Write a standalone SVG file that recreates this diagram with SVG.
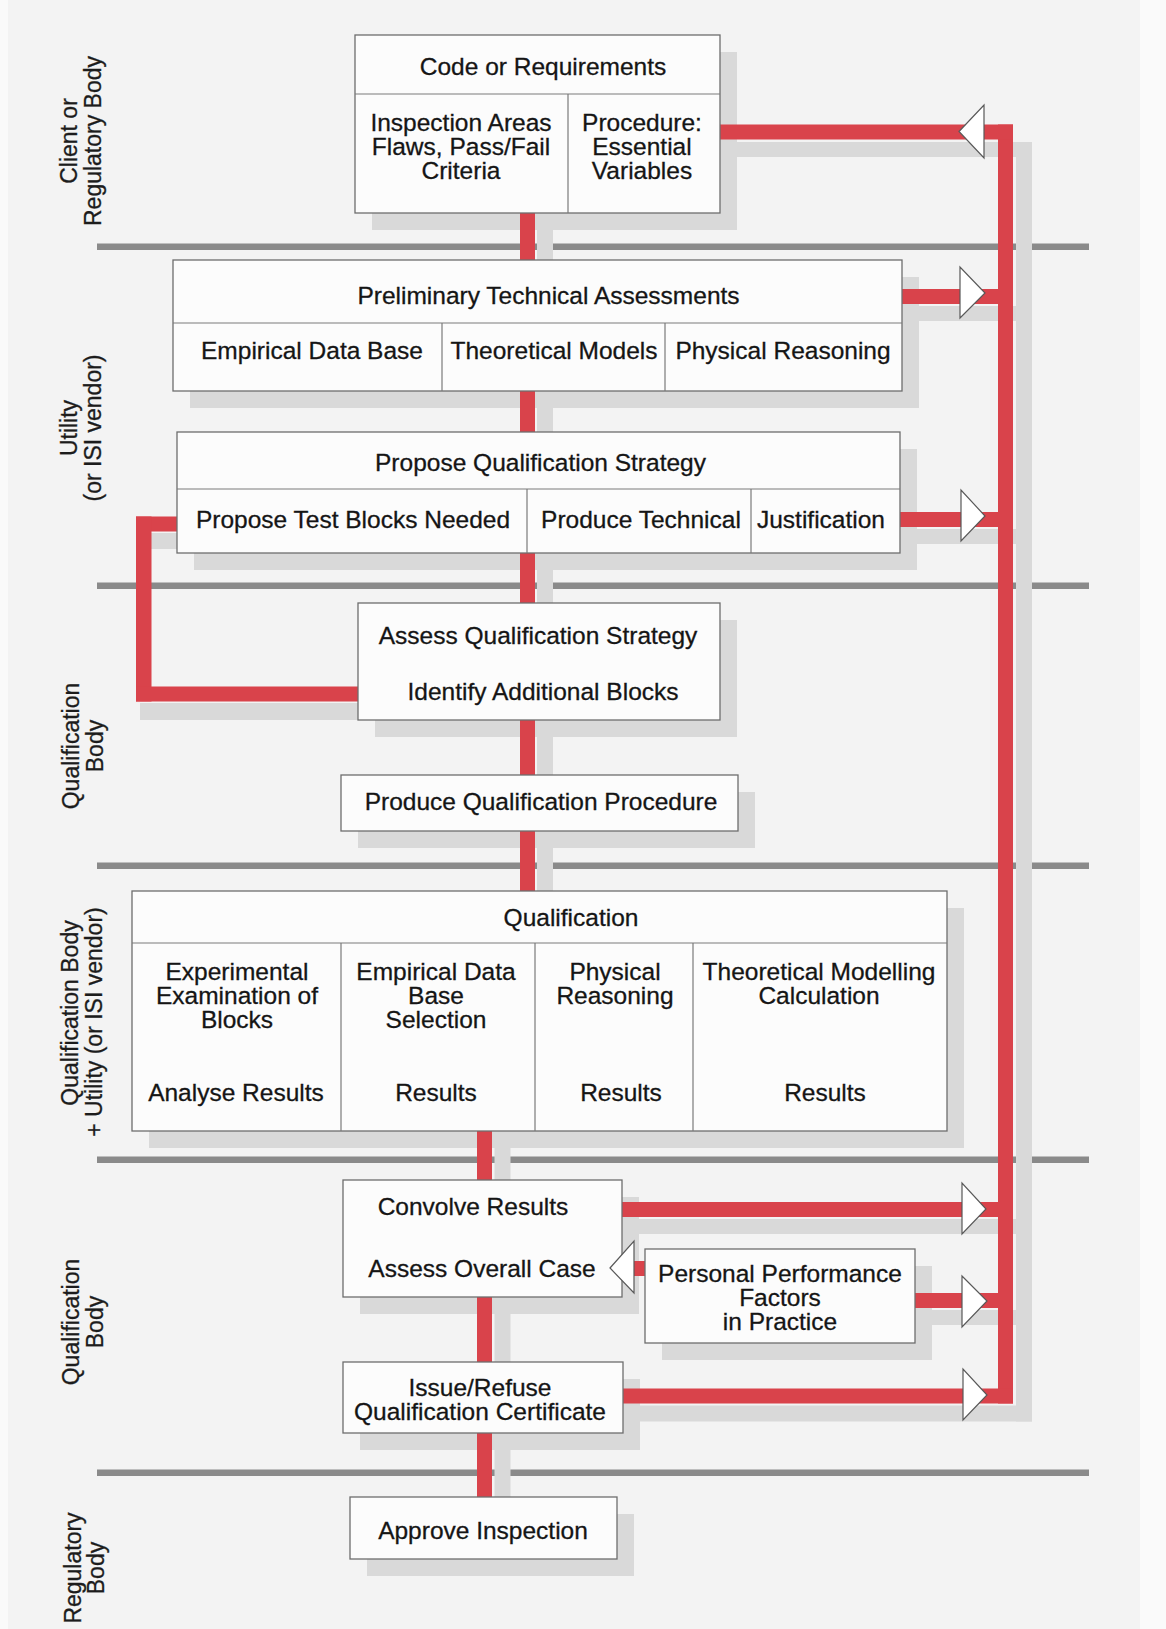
<svg xmlns="http://www.w3.org/2000/svg" width="1166" height="1629" viewBox="0 0 1166 1629">
  <style>
    .box { fill: #fcfcfc; stroke: #6d6d6d; stroke-width: 1.3; }
    .sep { stroke: #7a7a7a; stroke-width: 1.2; fill: none; }
    .sh { fill: #d9d9d9; }
    .lane { fill: #8a8a8a; }
    .red { fill: #d9434b; }
    .head { fill: #ffffff; stroke: #595959; stroke-width: 1.2; stroke-linejoin: miter; }
    text { font-family: "Liberation Sans", Arial, Helvetica, sans-serif; fill: #151515; stroke: #151515; stroke-width: 0.3; }
    .t { font-size: 24.5px; text-anchor: middle; }
    .lab { font-size: 23px; text-anchor: middle; fill: #1c1c1c; stroke: #1c1c1c; }
  </style>

  <!-- page -->
  <rect x="0" y="0" width="1166" height="1629" fill="#fafafa"/>
  <rect x="8" y="0" width="1132" height="1629" fill="#f3f3f3"/>

  <!-- lane separators -->
  <g id="lanes">
    <rect class="lane" x="97" y="243.5" width="992" height="6.5"/>
    <rect class="lane" x="97" y="582.5" width="992" height="6.5"/>
    <rect class="lane" x="97" y="862.5" width="992" height="6.5"/>
    <rect class="lane" x="97" y="1156.5" width="992" height="6.5"/>
    <rect class="lane" x="97" y="1469.5" width="992" height="6.5"/>
  </g>

  <!-- lane captions -->
  <g id="lane-labels">
    <text class="lab" transform="translate(77,141) rotate(-90)">Client or</text>
    <text class="lab" transform="translate(101,141) rotate(-90)">Regulatory Body</text>
    <text class="lab" transform="translate(77,428) rotate(-90)">Utility</text>
    <text class="lab" transform="translate(101,428) rotate(-90)">(or ISI vendor)</text>
    <text class="lab" transform="translate(79,746) rotate(-90)">Qualification</text>
    <text class="lab" transform="translate(103,746) rotate(-90)">Body</text>
    <text class="lab" transform="translate(78,1013) rotate(-90)">Qualification Body</text>
    <text class="lab" transform="translate(102,1022) rotate(-90)">+ Utility (or ISI vendor)</text>
    <text class="lab" transform="translate(79,1322) rotate(-90)">Qualification</text>
    <text class="lab" transform="translate(103,1322) rotate(-90)">Body</text>
    <text class="lab" transform="translate(81,1568) rotate(-90)">Regulatory</text>
    <text class="lab" transform="translate(104,1568) rotate(-90)">Body</text>
  </g>

  <!-- drop shadows -->
  <g id="shadows">
    <rect class="sh" x="372" y="52" width="365" height="178"/>
    <rect class="sh" x="190" y="277" width="729" height="131"/>
    <rect class="sh" x="194" y="449" width="723" height="121"/>
    <rect class="sh" x="375" y="620" width="362" height="117"/>
    <rect class="sh" x="358" y="792" width="397" height="56"/>
    <rect class="sh" x="149" y="908" width="815" height="240"/>
    <rect class="sh" x="360" y="1197" width="279" height="117"/>
    <rect class="sh" x="662" y="1266" width="270" height="94"/>
    <rect class="sh" x="360" y="1379" width="280" height="71"/>
    <rect class="sh" x="367" y="1514" width="267" height="62"/>
    <!-- connector shadows -->
    <rect class="sh" x="537" y="222" width="16" height="680"/>
    <rect class="sh" x="494.5" y="1140" width="16" height="370"/>
    <rect class="sh" x="1016" y="142" width="16" height="1279.5"/>
    <rect class="sh" x="720" y="142" width="312" height="15"/>
    <rect class="sh" x="902" y="306" width="130" height="15"/>
    <rect class="sh" x="900" y="529" width="132" height="15"/>
    <rect class="sh" x="622" y="1219" width="410" height="15"/>
    <rect class="sh" x="915" y="1310" width="117" height="15"/>
    <rect class="sh" x="623" y="1405.5" width="409" height="16"/>
    <rect class="sh" x="136" y="533" width="41" height="16"/>
    <rect class="sh" x="140" y="703" width="218" height="17"/>
  </g>

  <!-- connectors -->
  <g id="connectors">
    <rect class="red" x="520" y="205" width="15" height="690"/>
    <rect class="red" x="477" y="1125" width="15" height="375"/>
    <rect class="red" x="998" y="124.5" width="15" height="1279"/>
    <rect class="red" x="715" y="124.5" width="298" height="15"/>
    <rect class="red" x="898" y="289" width="115" height="15"/>
    <rect class="red" x="896" y="512" width="117" height="15"/>
    <rect class="red" x="618" y="1202" width="395" height="15"/>
    <rect class="red" x="911" y="1293" width="102" height="15"/>
    <rect class="red" x="619" y="1388.5" width="394" height="15"/>
    <rect class="red" x="625" y="1261" width="24" height="15"/>
    <!-- loop back from test blocks to additional blocks -->
    <rect class="red" x="136" y="516.5" width="45" height="15"/>
    <rect class="red" x="136" y="516.5" width="15.5" height="185"/>
    <rect class="red" x="136" y="686.5" width="226" height="15"/>
  </g>

  <!-- nodes -->
  <g id="code-requirements">
    <rect class="box" x="355" y="35" width="365" height="178"/>
    <line class="sep" x1="355" y1="94" x2="720" y2="94"/>
    <line class="sep" x1="568" y1="94" x2="568" y2="213"/>
    <text class="t" x="543" y="75">Code or Requirements</text>
    <text class="t" x="461" y="131">Inspection Areas</text>
    <text class="t" x="461" y="155">Flaws, Pass/Fail</text>
    <text class="t" x="461" y="179">Criteria</text>
    <text class="t" x="642" y="131">Procedure:</text>
    <text class="t" x="642" y="155">Essential</text>
    <text class="t" x="642" y="179">Variables</text>
  </g>

  <g id="preliminary-assessments">
    <rect class="box" x="173" y="260" width="729" height="131"/>
    <line class="sep" x1="173" y1="323" x2="902" y2="323"/>
    <line class="sep" x1="442" y1="323" x2="442" y2="391"/>
    <line class="sep" x1="665" y1="323" x2="665" y2="391"/>
    <text class="t" x="548.5" y="304">Preliminary Technical Assessments</text>
    <text class="t" x="312" y="359">Empirical Data Base</text>
    <text class="t" x="554" y="359">Theoretical Models</text>
    <text class="t" x="783" y="359">Physical Reasoning</text>
  </g>

  <g id="propose-strategy">
    <rect class="box" x="177" y="432" width="723" height="121"/>
    <line class="sep" x1="177" y1="489" x2="900" y2="489"/>
    <line class="sep" x1="527" y1="489" x2="527" y2="553"/>
    <line class="sep" x1="751" y1="489" x2="751" y2="553"/>
    <text class="t" x="540.5" y="471">Propose Qualification Strategy</text>
    <text class="t" x="353" y="528">Propose Test Blocks Needed</text>
    <text class="t" x="641" y="528">Produce Technical</text>
    <text class="t" x="821" y="528">Justification</text>
  </g>

  <g id="assess-strategy">
    <rect class="box" x="358" y="603" width="362" height="117"/>
    <text class="t" x="538" y="644">Assess Qualification Strategy</text>
    <text class="t" x="543" y="700">Identify Additional Blocks</text>
  </g>

  <g id="qualification-procedure">
    <rect class="box" x="341" y="775" width="397" height="56"/>
    <text class="t" x="541" y="810">Produce Qualification Procedure</text>
  </g>

  <g id="qualification">
    <rect class="box" x="132" y="891" width="815" height="240"/>
    <line class="sep" x1="132" y1="943" x2="947" y2="943"/>
    <line class="sep" x1="341" y1="943" x2="341" y2="1131"/>
    <line class="sep" x1="535" y1="943" x2="535" y2="1131"/>
    <line class="sep" x1="693" y1="943" x2="693" y2="1131"/>
    <text class="t" x="571" y="926">Qualification</text>
    <text class="t" x="237" y="980">Experimental</text>
    <text class="t" x="237" y="1004">Examination of</text>
    <text class="t" x="237" y="1028">Blocks</text>
    <text class="t" x="236" y="1101">Analyse Results</text>
    <text class="t" x="436" y="980">Empirical Data</text>
    <text class="t" x="436" y="1004">Base</text>
    <text class="t" x="436" y="1028">Selection</text>
    <text class="t" x="436" y="1101">Results</text>
    <text class="t" x="615" y="980">Physical</text>
    <text class="t" x="615" y="1004">Reasoning</text>
    <text class="t" x="621" y="1101">Results</text>
    <text class="t" x="819" y="980">Theoretical Modelling</text>
    <text class="t" x="819" y="1004">Calculation</text>
    <text class="t" x="825" y="1101">Results</text>
  </g>

  <g id="convolve">
    <rect class="box" x="343" y="1180" width="279" height="117"/>
    <text class="t" x="473" y="1215">Convolve Results</text>
    <text class="t" x="482" y="1277">Assess Overall Case</text>
  </g>

  <g id="personal-performance">
    <rect class="box" x="645" y="1249" width="270" height="94"/>
    <text class="t" x="780" y="1282">Personal Performance</text>
    <text class="t" x="780" y="1306">Factors</text>
    <text class="t" x="780" y="1330">in Practice</text>
  </g>

  <g id="certificate">
    <rect class="box" x="343" y="1362" width="280" height="71"/>
    <text class="t" x="480" y="1396">Issue/Refuse</text>
    <text class="t" x="480" y="1420">Qualification Certificate</text>
  </g>

  <g id="approve">
    <rect class="box" x="350" y="1497" width="267" height="62"/>
    <text class="t" x="483" y="1539">Approve Inspection</text>
  </g>

  <!-- arrowheads -->
  <g id="arrowheads">
    <polygon class="head" points="959,131.5 984,105 984,158"/>
    <polygon class="head" points="960,267 960,318 985,293"/>
    <polygon class="head" points="961,490 961,541 985,516"/>
    <polygon class="head" points="962,1183 962,1234 986,1209"/>
    <polygon class="head" points="962,1276 962,1327 987,1301"/>
    <polygon class="head" points="963,1369 963,1420 987,1395"/>
    <polygon class="head" points="610,1268 634,1241 634,1293"/>
  </g>
</svg>
